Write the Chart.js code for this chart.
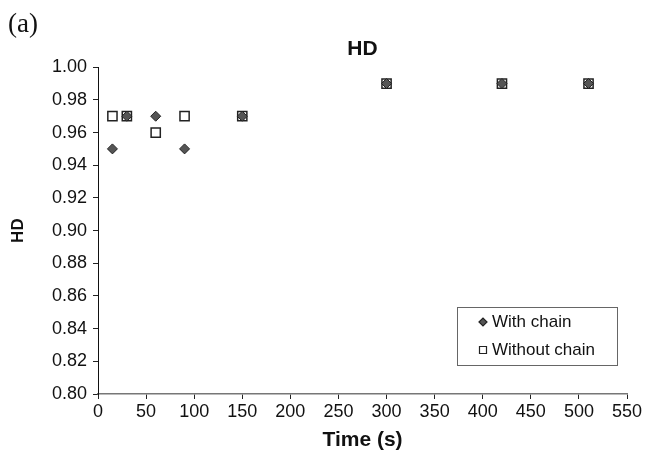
<!DOCTYPE html>
<html>
<head>
<meta charset="utf-8">
<script src="https://cdn.jsdelivr.net/npm/chart.js@4/dist/chart.umd.min.js"></script>
<style>
    body { margin: 0; background: #fff; }
    #wrap { position: relative; width: 646px; height: 455px; }
    #panel { position: absolute; left: 8px; top: 8px; font-family: 'Liberation Serif', 'DejaVu Serif', serif; font-size: 27px; color: #111; }
</style>
</head>
<body>
<div id="wrap">
    <canvas id="myCanvas" width="646" height="455"></canvas>
    <div id="panel">(a)</div>
</div>
<script>
const times = [15, 30, 60, 90, 150, 300, 420, 510];
const withChain = [0.95, 0.97, 0.97, 0.95, 0.97, 0.99, 0.99, 0.99];
const withoutChain = [0.97, 0.97, 0.96, 0.97, 0.97, 0.99, 0.99, 0.99];
const seriesNames = ['With chain', 'Without chain'];

function toPoints(xs, ys) {
    return xs.map((x, i) => ({ x: x, y: ys[i] }));
}

const fontFamily = "'Liberation Sans', Arial, sans-serif";

// legend box sitting inside the plot, bottom right
const boxLegend = {
    id: 'boxLegend',
    afterDraw(chart) {
        const ctx = chart.ctx;
        const area = chart.chartArea;
        const w = 160, h = 58;
        const left = area.right - 10 - w;
        const top = area.bottom - 29 - h;
        ctx.save();
        ctx.fillStyle = '#fff';
        ctx.fillRect(left, top, w, h);
        ctx.strokeStyle = '#666';
        ctx.lineWidth = 1;
        ctx.strokeRect(left + 0.5, top + 0.5, w, h);
        ctx.font = '17px ' + fontFamily;
        ctx.textBaseline = 'middle';
        ctx.fillStyle = '#111';
        chart.data.datasets.forEach((ds, i) => {
            const cy = top + 15 + i * 28;
            const cx = left + 26;
            ctx.beginPath();
            if (ds.pointStyle === 'rectRot') {
                ctx.moveTo(cx - 4, cy);
                ctx.lineTo(cx, cy - 4);
                ctx.lineTo(cx + 4, cy);
                ctx.lineTo(cx, cy + 4);
                ctx.closePath();
            } else {
                ctx.rect(cx - 3.5, cy - 3.5, 7, 7);
            }
            ctx.fillStyle = ds.backgroundColor;
            ctx.fill();
            ctx.strokeStyle = ds.borderColor;
            ctx.lineWidth = 1.2;
            ctx.stroke();
            ctx.fillStyle = '#111';
            ctx.fillText(ds.label, left + 35, cy);
        });
        ctx.restore();
    }
};

const myCanvas = document.getElementById('myCanvas').getContext('2d');
window.myChart = new Chart(myCanvas, {
    type: 'scatter',
    data: {
        datasets: [{
            label: seriesNames[0],
            data: toPoints(times, withChain),
            pointStyle: 'rectRot',
            pointRadius: 5,
            backgroundColor: '#555',
            borderColor: '#222',
            borderWidth: 1
        }, {
            label: seriesNames[1],
            data: toPoints(times, withoutChain),
            pointStyle: 'rect',
            pointRadius: 6.5,
            backgroundColor: '#fff',
            borderColor: '#222',
            borderWidth: 1.5
        }]
    },
    options: {
        responsive: false,
        animation: false,
        layout: { padding: { left: 0, right: 19, top: 0, bottom: 0 } },
        plugins: {
            legend: { display: false },
            tooltip: { enabled: false },
            title: {
                display: true,
                text: 'HD',
                fullSize: false,
                color: '#111',
                font: { family: fontFamily, size: 21, weight: 'bold' },
                padding: { top: 37, bottom: 5 }
            }
        },
        scales: {
            x: {
                type: 'linear',
                min: 0,
                max: 550,
                afterFit: (scale) => { scale.height = 61; },
                ticks: {
                    stepSize: 50,
                    padding: 2,
                    color: '#111',
                    font: { family: fontFamily, size: 18 }
                },
                grid: { drawOnChartArea: false, drawTicks: true, tickLength: 5, color: '#222' },
                border: { display: true, color: '#777', width: 1.5 },
                title: {
                    display: true,
                    text: 'Time (s)',
                    color: '#111',
                    font: { family: fontFamily, size: 21, weight: 'bold' },
                    padding: { top: 0, bottom: 2 }
                }
            },
            y: {
                min: 0.8,
                max: 1.0,
                afterFit: (scale) => { scale.width = 98; },
                ticks: {
                    stepSize: 0.02,
                    padding: 6,
                    color: '#111',
                    font: { family: fontFamily, size: 18 },
                    callback: (v) => v.toFixed(2)
                },
                grid: { drawOnChartArea: false, drawTicks: true, tickLength: 5, color: '#222' },
                border: { display: true, color: '#111', width: 1 },
                title: {
                    display: true,
                    text: 'HD',
                    color: '#111',
                    font: { family: fontFamily, size: 17, weight: 'bold' },
                    padding: { top: 8, bottom: 0 }
                }
            }
        }
    },
    plugins: [boxLegend]
});
</script>
</body>
</html>
